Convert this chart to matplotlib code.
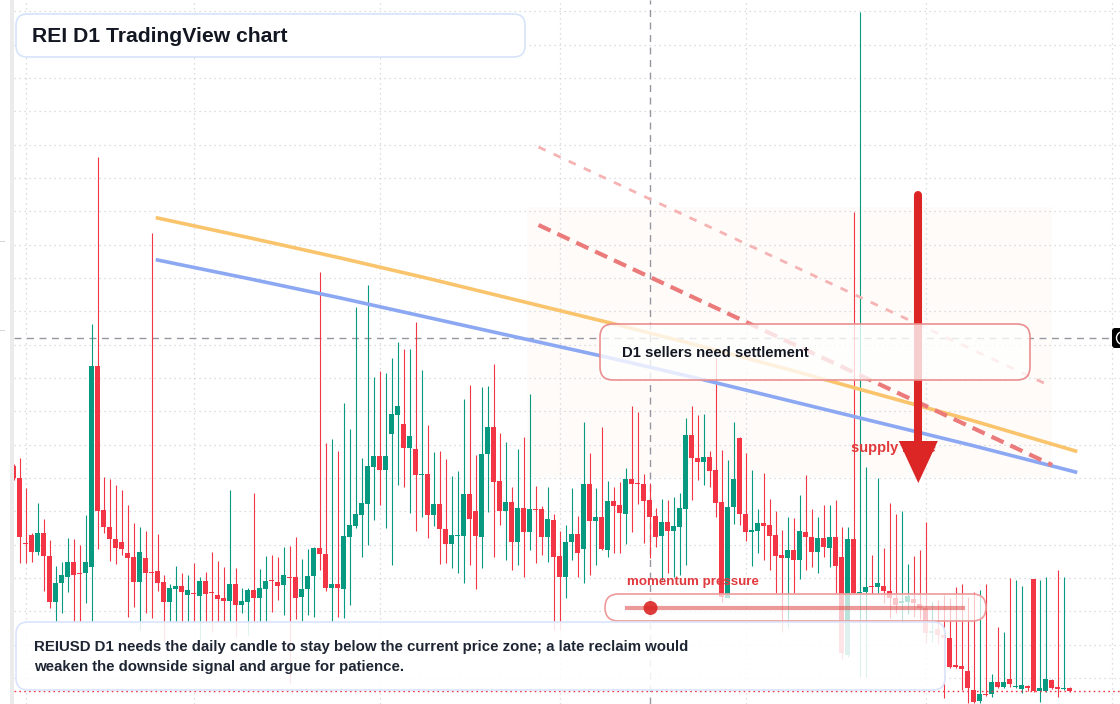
import matplotlib.pyplot as plt
from matplotlib.patches import FancyBboxPatch, Rectangle, Circle
import numpy as np

plt.rcParams['font.family'] = ['Liberation Sans', 'DejaVu Sans']

# daily candles, price in chart units (no axis labels shown on the reference)
opens = [238, 226, 161, 169, 152, 171, 148, 102, 121, 127,
         142, 131, 131, 137, 338, 194, 177, 165, 162, 151,
         147, 122, 146, 132, 133, 122, 102, 115, 118, 109,
         111, 108, 123, 112, 109, 106, 103, 120, 99, 102,
         114, 106, 115, 124, 122, 119, 127, 127, 107, 115,
         128, 156, 150, 116, 120, 115, 167, 178, 189, 200,
         237, 248, 234, 270, 289, 280, 256, 255, 229, 230,
         189, 200, 175, 160, 168, 168, 210, 193, 167, 250,
         277, 223, 193, 202, 162, 196, 172, 195, 195, 167,
         184, 148, 127, 162, 170, 155, 220, 183, 187, 154,
         203, 199, 190, 225, 221, 220, 204, 188, 168, 182,
         173, 177, 195, 269, 246, 242, 247, 234, 202, 106,
         197, 266, 190, 172, 173, 181, 179, 169, 149, 146,
         154, 144, 172, 167, 152, 166, 156, 167, 147, 49,
         165, 111, 112, 118, 117, 118, 113, 106, 101, 102,
         105, 100, 96, 71, 75, 69, 66, 39, 38, 33,
         14, 3, 10, 10, 22, 17, 25, 17, 15, 18,
         125, 13, 13, 24, 17, 15, 16]
highs = [240, 246, 216, 171, 201, 185, 164, 138, 142, 166,
         165, 159, 189, 380, 547, 227, 225, 219, 214, 199,
         181, 177, 173, 471, 170, 129, 120, 138, 131, 129,
         141, 127, 132, 152, 143, 137, 214, 136, 116, 116,
         211, 135, 148, 149, 147, 157, 158, 167, 145, 155,
         157, 432, 261, 265, 253, 301, 275, 397, 246, 419,
         327, 333, 331, 346, 362, 355, 355, 382, 334, 279,
         252, 253, 245, 228, 233, 305, 319, 249, 317, 318,
         340, 271, 262, 217, 255, 267, 310, 218, 198, 217,
         190, 173, 179, 216, 188, 282, 251, 216, 277, 223,
         217, 222, 236, 298, 292, 230, 221, 196, 205, 204,
         207, 211, 286, 298, 289, 290, 253, 346, 254, 244,
         282, 267, 251, 234, 195, 231, 205, 193, 174, 187,
         186, 209, 229, 195, 187, 199, 199, 204, 177, 177,
         492, 692, 237, 149, 226, 156, 201, 190, 193, 140,
         148, 154, 182, 102, 104, 109, 106, 117, 120, 107,
         112, 114, 120, 30, 77, 72, 126, 124, 118, 19,
         125, 124, 127, 25, 134, 127, 17]
lows = [224, 141, 141, 142, 149, 113, 96, 82, 91, 112,
        82, 82, 101, 82, 155, 171, 143, 140, 149, 87,
        97, 74, 91, 86, 113, 62, 82, 82, 82, 82,
        82, 64, 82, 72, 82, 82, 82, 67, 91, 69,
        82, 82, 82, 92, 104, 89, 21, 85, 82, 89,
        87, 134, 113, 82, 87, 86, 99, 176, 147, 159,
        184, 199, 176, 139, 219, 217, 191, 173, 187, 166,
        178, 140, 141, 136, 131, 121, 139, 115, 136, 192,
        147, 179, 144, 134, 139, 127, 154, 141, 149, 142,
        74, 74, 106, 144, 127, 121, 129, 139, 154, 147,
        151, 151, 160, 172, 200, 161, 146, 157, 124, 131,
        127, 129, 139, 204, 224, 219, 217, 187, 102, 106,
        180, 179, 163, 138, 151, 144, 134, 111, 72, 76,
        111, 125, 134, 137, 131, 147, 137, 111, 45, 47,
        110, 27, 27, 110, 111, 101, 86, 91, 81, 90,
        87, 85, 61, 62, 60, 6, 36, 36, 14, 1,
        1, 1, 8, 7, 16, 16, 17, 16, 11, 13,
        12, 2, 12, 15, 7, 14, 12]
closes = [226, 167, 160, 152, 171, 148, 102, 121, 129, 142,
          129, 130, 142, 338, 193, 177, 165, 156, 155, 146,
          122, 152, 131, 131, 121, 102, 116, 118, 112, 114,
          110, 123, 110, 111, 105, 103, 120, 99, 103, 114,
          106, 116, 123, 123, 118, 129, 126, 106, 115, 128,
          156, 150, 116, 120, 116, 168, 179, 190, 201, 238,
          248, 234, 248, 290, 298, 256, 268, 229, 230, 189,
          200, 175, 160, 169, 169, 210, 185, 168, 250, 277,
          222, 193, 202, 162, 196, 172, 195, 194, 167, 185,
          147, 127, 162, 170, 151, 220, 183, 187, 155, 203,
          198, 191, 225, 220, 220, 203, 187, 167, 182, 173,
          178, 196, 269, 246, 242, 247, 233, 201, 107, 197,
          225, 190, 172, 174, 181, 178, 168, 148, 146, 154,
          144, 173, 167, 152, 166, 157, 167, 138, 51, 165,
          111, 112, 117, 117, 121, 113, 106, 99, 103, 108,
          101, 96, 71, 73, 69, 66, 37, 37, 35, 16,
          2, 10, 9, 22, 17, 22, 20, 18, 19, 16,
          13, 16, 25, 16, 15, 16, 13]

# moving averages, read at candle positions
ma_idx = [24, 39.5, 54.5, 69.5, 84.5, 99.5, 114.5, 129.5, 144.5, 159.5, 177]
ma_fast = [486, 466, 446, 425, 403, 381, 358, 334, 309, 284, 253]
ma_slow = [444, 425, 406, 386, 366, 346, 325, 303, 281, 259, 232]

# drawn trend lines (candle index, price)
trend_main_idx, trend_main = [87.5, 173.1], [479, 239]
trend_upper_idx, trend_upper = [87.5, 172.8], [557, 318]

# supply zone
zone_start, zone_end = 85.5, 173.1
zone_low, zone_high = 227, 497

month_starts = [2, 30, 61, 91, 122, 152, 183]
price_levels = [26 + 33.33 * k for k in range(21)]

crosshair_idx, crosshair_price = 106.1, 366
arrow_idx, arrow_from, arrow_to, arrow_head = 150.8, 509, 221, 42
momentum_value = 0.07

GREEN = '#089981'
RED = '#f23645'
W, H = 1120, 704

fig = plt.figure(figsize=(W / 100, H / 100), dpi=100)
fig.patch.set_facecolor('white')
ax = fig.add_axes([14 / W, 0, 1 - 14 / W, 1])
for s in ax.spines.values():
    s.set_visible(False)
ax.set_xticks(month_starts)
ax.set_yticks(price_levels)
ax.tick_params(length=0, labelbottom=False, labelleft=False)
ax.grid(True, color='#cfd2d8', lw=0.9, ls=(0, (1, 3)))
ax.set_axisbelow(True)

# supply zone shading
ax.add_patch(Rectangle((zone_start, zone_low), zone_end - zone_start, zone_high - zone_low,
                       facecolor='#fefbf9', edgecolor='none', zorder=0.3))

# crosshair and last price line
ax.axvline(crosshair_idx, color='#9598a1', lw=1, ls=(0, (5, 4)), zorder=1.5)
ax.axhline(crosshair_price, color='#9598a1', lw=1, ls=(0, (5, 4)), zorder=1.5)

# candles
o, h, l, c = (np.array(a, dtype=float) for a in (opens, highs, lows, closes))
idx = np.arange(len(o))
cols = np.where(c >= o, GREEN, RED)
ax.vlines(idx, l, h, colors=cols, lw=0.8, zorder=2)
ax.bar(idx, np.maximum(np.abs(c - o), 1.5), bottom=np.minimum(o, c), width=0.72,
       color=cols, linewidth=0, zorder=2.1)

ax.axhline(closes[-1], color=RED, lw=1, ls=(0, (1.2, 2.3)), zorder=2.5)

# moving averages and trend lines
ax.plot(ma_idx, ma_fast, color='#f9c46c', lw=2.6, zorder=3)
ax.plot(ma_idx, ma_slow, color='#8da8f3', lw=2.6, zorder=3)
ax.plot(trend_upper_idx, trend_upper, color='#f6b3b3', lw=2, ls=(0, (2.8, 3.2)), zorder=3.1)
ax.plot(trend_main_idx, trend_main, color='#eb7a7a', lw=3, ls=(0, (3.2, 1.8)), zorder=3.2)

ax.text(139.6, 256, 'supply zone', va='center', ha='left', fontsize=10.5,
        fontweight='bold', color='#e03a3a', zorder=4)

# down arrow
ax.plot([arrow_idx, arrow_idx], [arrow_from, arrow_to + arrow_head + 1], color='#dc2626',
        lw=5.8, solid_capstyle='round', zorder=5)
ax.fill([arrow_idx - 3.25, arrow_idx + 3.25, arrow_idx],
        [arrow_to + arrow_head, arrow_to + arrow_head, arrow_to],
        color='#dc2626', lw=0, zorder=5)

# candle centres land on pixel centres
ax.set_xlim(0.0833, 0.0833 + 1106 / 6)
ax.set_ylim(0, 704)


def box(x0, y0, x1, y1, r, face, edge, lw=1.2, z=6):
    p = FancyBboxPatch((x0 / 100, (H - y1) / 100), (x1 - x0) / 100, (y1 - y0) / 100,
                       boxstyle=f"round,pad=0,rounding_size={r / 100}",
                       transform=fig.dpi_scale_trans, facecolor=face, edgecolor=edge,
                       lw=lw, zorder=z, clip_on=False)
    ax.add_patch(p)


def label(x, y, s, **kw):
    ax.text(x / 100, (H - y) / 100, s, transform=fig.dpi_scale_trans,
            va='center', ha='left', clip_on=False, **kw)


# title
box(16, 14, 525, 57, 11, 'white', '#d6e4fa', z=7)
label(32, 36, 'REI D1 TradingView chart', fontsize=15.2, fontweight='bold',
      color='#131722', zorder=8)

# sellers box
box(600, 324, 1030, 380, 13, (1, 1, 1, 0.78), '#ea8f8f', z=6)
label(622, 353, 'D1 sellers need settlement', fontsize=10.7, fontweight='bold',
      color='#131722', zorder=7)

# momentum gauge
label(627, 582, 'momentum pressure', fontsize=9.6, fontweight='bold', color='#e0393e', zorder=7)
box(605, 594, 986, 621, 13.5, (1, 1, 1, 0.72), '#ef9a9a', z=6)
ax.plot([6.27, 9.63], [(H - 608) / 100] * 2, transform=fig.dpi_scale_trans,
        color='#e05555', alpha=0.6, lw=3, zorder=6.5, clip_on=False)
dot_x = 627 + momentum_value * (963 - 627)
ax.add_patch(Circle((dot_x / 100, (H - 608) / 100), 0.07, transform=fig.dpi_scale_trans,
                    facecolor='#dc2626', edgecolor='none', alpha=0.9, zorder=6.6, clip_on=False))

# note box
box(16, 622, 945, 690, 12, (1, 1, 1, 0.87), '#d9e5fb', z=6.2)
label(34, 647, 'REIUSD D1 needs the daily candle to stay below the current price zone; a late reclaim would',
      fontsize=10.8, fontweight='bold', color='#1e2533', zorder=7)
label(34, 667, 'weaken the downside signal and argue for patience.',
      fontsize=10.8, fontweight='bold', color='#1e2533', zorder=7)

# crosshair price tag at the right edge (cut off)
box(1112, 328, 1136, 348, 3, '#000000', 'none', z=8)
ax.add_patch(Circle((1123 / 100, (H - 338) / 100), 0.065, transform=fig.dpi_scale_trans,
                    facecolor='none', edgecolor='white', lw=1, zorder=9, clip_on=False))

# left scale strip
fig.add_artist(Rectangle((10 / W, 0), 4 / W, 1, transform=fig.transFigure,
                         facecolor='#ebebeb', edgecolor='none'))
for ty in (242, 331):
    fig.add_artist(Rectangle((0, 1 - ty / H), 5 / W, 1 / H, transform=fig.transFigure,
                             facecolor='#d5d5d5', edgecolor='none'))

fig.savefig('out.png', dpi=100)
